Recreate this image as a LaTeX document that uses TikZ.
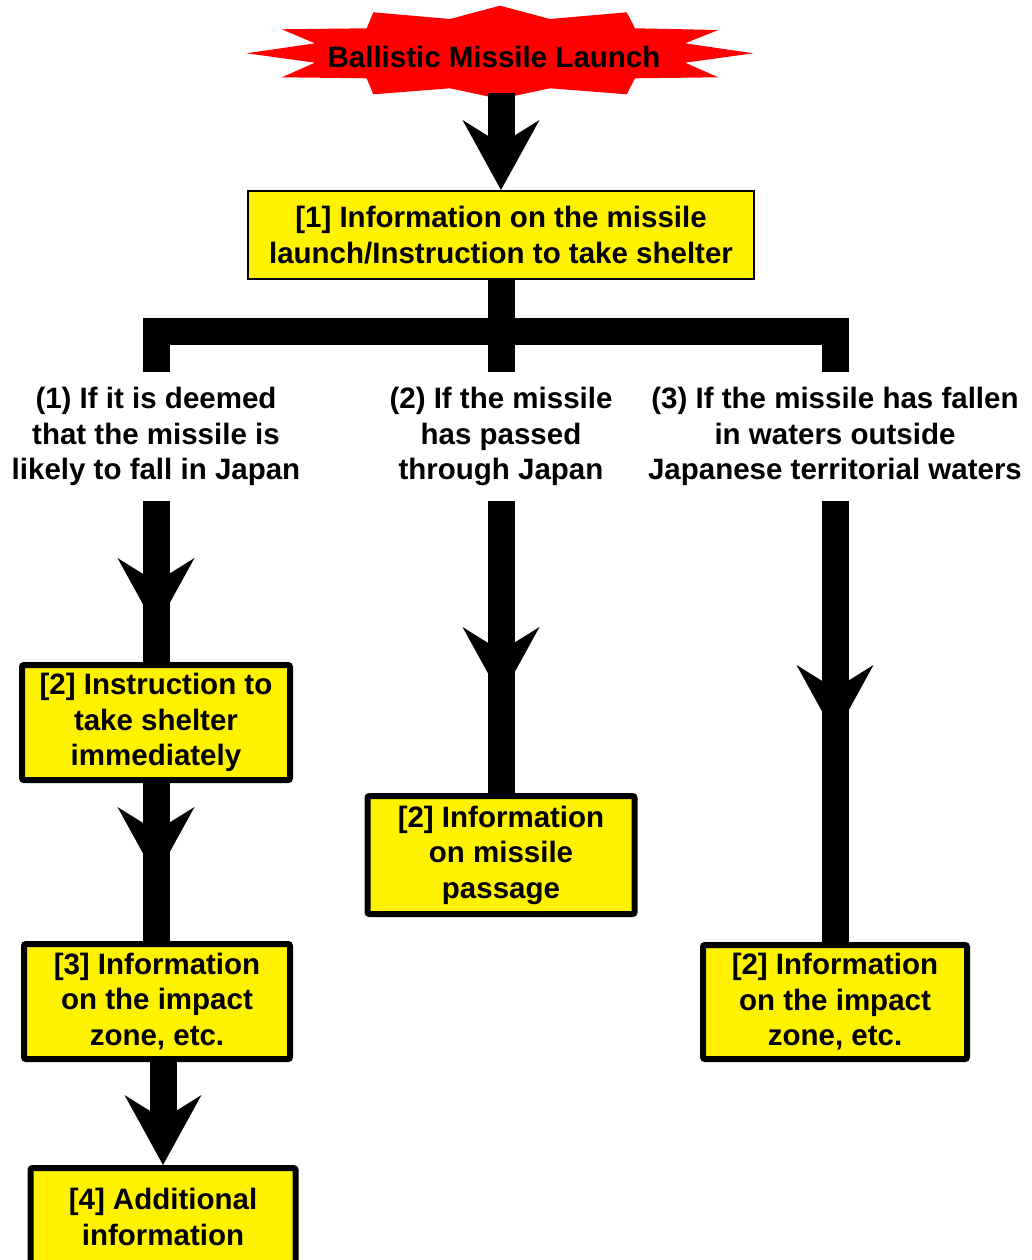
\documentclass[tikz,border=0pt]{standalone}
\usepackage{fontspec}
\setmainfont{Liberation Sans}
\usetikzlibrary{arrows.meta,decorations.markings}

\tikzset{
  bighead/.tip={Stealth[length=70pt,width=77pt,inset=24pt,line width=0pt]},
  shaft/.style={line width=27pt},
  midhead/.style={postaction={decorate,decoration={markings,mark=at position #1 with {\arrow{bighead}}}}},
  infobox/.style={draw,fill=yellow,line width=6pt,rounded corners=2pt,align=center,inner sep=0pt,
    execute at begin node={\rule{0pt}{43pt}}},
  caselabel/.style={align=center,inner xsep=0pt,inner ysep=15pt},
}

\begin{document}
\begin{tikzpicture}[x=1pt,y=-1pt,font=\bfseries\fontsize{29.5}{35.5}\selectfont]
\useasboundingbox (0,0) rectangle (1031,1260);
\clip (0,0) rectangle (1031,1260);
% launch burst
\fill[red] (373.3,12.3) -- (450,19) -- (500,5.7) -- (550,19) -- (626.7,12.3)
  -- (635,28.3) -- (718.3,30) -- (685,43.3) -- (753.3,53.3) -- (685,62.7)
  -- (718.3,77.3) -- (635,78.3) -- (626.7,94.3) -- (550,88.3) -- (500,99)
  -- (450,88.3) -- (373.3,94.3) -- (366.7,78.3) -- (281.7,77.3) -- (315,62.7)
  -- (246.7,53.3) -- (315,43.3) -- (281.7,29.3) -- (366.7,28.3) -- cycle;
\coordinate (burstbase) at (501,93);
\node (burst) at (494,57) {Ballistic Missile Launch};
% first notice
\node[infobox,line width=2pt,sharp corners,minimum width=506pt,minimum height=88pt] (info1) at (501,235)
  {[1] Information on the missile\\launch/Instruction to take shelter};
\coordinate (fork) at (501,331.5);
% the three cases
\node[caselabel] (case1) at (156,436.5) {(1) If it is deemed\\that the missile is\\likely to fall in Japan};
\node[caselabel] (case2) at (501,436.5) {(2) If the missile\\has passed\\through Japan};
\node[caselabel] (case3) at (835,436.5) {(3) If the missile has fallen\\in waters outside\\Japanese territorial waters};
% case 1
\node[infobox,minimum width=268pt,minimum height=115pt] (shelter) at (156,722.5)
  {[2] Instruction to\\take shelter\\immediately};
\node[infobox,minimum width=266pt,minimum height=115pt] (impact1) at (157,1001.5)
  {[3] Information\\on the impact\\zone, etc.};
\node[infobox,minimum width=265pt,minimum height=98pt] (addinfo) at (163,1217)
  {[4] Additional\\information};
% case 2
\node[infobox,minimum width=267pt,minimum height=118pt] (passage) at (501,855)
  {[2] Information\\on missile\\passage};
% case 3
\node[infobox,minimum width=264pt,minimum height=114pt] (impact2) at (835,1002)
  {[2] Information\\on the impact\\zone, etc.};

% connectors
\draw[shaft,-bighead] (burstbase) -- (info1.north);
\draw[shaft] (info1.south) -- (fork);
\draw[shaft] (case1.north) |- (fork) -| (case3.north);
\draw[shaft] (fork) -- (case2.north);
\draw[shaft,midhead=-34pt] (case1.south) -- (shelter.north);
\draw[shaft,midhead=-64pt] (shelter.south) -- (shelter.south |- impact1.north);
\draw[shaft,-bighead] (addinfo.north |- impact1.south) -- (addinfo.north);
\draw[shaft,midhead=-96pt] (case2.south) -- (passage.north);
\draw[shaft,midhead=-207pt] (case3.south) -- (impact2.north);
\end{tikzpicture}
\end{document}
